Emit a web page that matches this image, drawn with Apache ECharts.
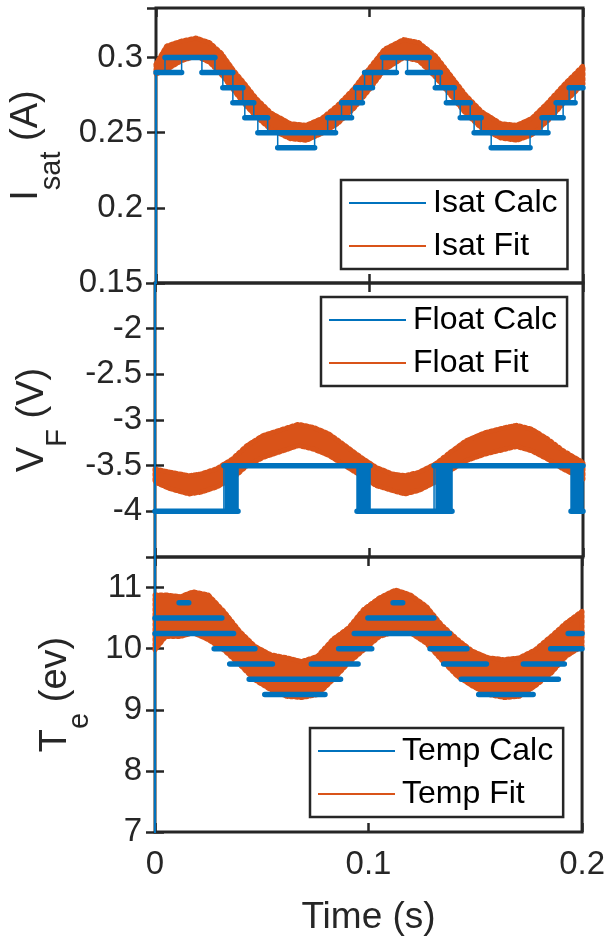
<!DOCTYPE html>
<html><head><meta charset="utf-8">
<script src="https://cdn.jsdelivr.net/npm/echarts@6/dist/echarts.min.js"></script>
<style>html,body{margin:0;padding:0;background:#fff}#c{width:608px;height:943px}</style>
</head><body><div id="c"></div>
<script>
// ---------- DATA ----------
// Panel 1: saturation current
const isatFitT   = [0, 0.005, 0.012, 0.0187, 0.025, 0.0305, 0.036, 0.0415, 0.047, 0.054, 0.063, 0.0705, 0.0777, 0.085, 0.0925, 0.0995, 0.107, 0.116, 0.123, 0.131, 0.138, 0.145, 0.1525, 0.1615, 0.169, 0.176, 0.1835, 0.1905, 0.2];
const isatFitUp  = [0.2956, 0.3077, 0.311, 0.313, 0.31, 0.303, 0.292, 0.2825, 0.2726, 0.263, 0.256, 0.255, 0.2595, 0.268, 0.279, 0.292, 0.3055, 0.312, 0.31, 0.301, 0.288, 0.275, 0.264, 0.256, 0.255, 0.2595, 0.27, 0.281, 0.2945];
const isatFitLo  = [0.289, 0.292, 0.298, 0.301, 0.297, 0.289, 0.279, 0.269, 0.2606, 0.252, 0.246, 0.245, 0.2496, 0.256, 0.266, 0.278, 0.292, 0.30, 0.298, 0.287, 0.275, 0.263, 0.253, 0.2465, 0.245, 0.2485, 0.258, 0.269, 0.2825];
const isatFitStart = [[0, 0.266], [0, 0.296]];
const isatCalcStart = [0, 0.0042, 0.0215, 0.0313, 0.036, 0.0416, 0.0477, 0.057, 0.0804, 0.0869, 0.0935, 0.0977, 0.1061, 0.1178, 0.1308, 0.136, 0.1425, 0.149, 0.157, 0.1808, 0.1874, 0.1935];
const isatCalcEnd   = [0.012, 0.0276, 0.036, 0.0407, 0.0458, 0.0523, 0.0841, 0.0743, 0.0916, 0.0967, 0.1014, 0.1126, 0.128, 0.1332, 0.1397, 0.1472, 0.1523, 0.1836, 0.1752, 0.1907, 0.1963, 0.2];
const isatCalcLevel = [0.29, 0.30, 0.29, 0.28, 0.27, 0.26, 0.25, 0.24, 0.26, 0.27, 0.28, 0.29, 0.30, 0.29, 0.28, 0.27, 0.26, 0.25, 0.24, 0.26, 0.27, 0.28];
const isatCalcStartup = [[0, 0.10], [0, 0.29]];
const isatFlicker = [];

// Panel 2: floating potential
const floatFitT  = [0, 0.0067, 0.0159, 0.0215, 0.0286, 0.036, 0.043, 0.0505, 0.0598, 0.067, 0.0743, 0.0815, 0.0888, 0.0963, 0.1033, 0.1107, 0.1168, 0.1234, 0.131, 0.1379, 0.1453, 0.1542, 0.1636, 0.169, 0.176, 0.1836, 0.1907, 0.2];
const floatFitUp = [-3.536, -3.57, -3.61, -3.59, -3.536, -3.43, -3.28, -3.17, -3.10, -3.047, -3.083, -3.156, -3.28, -3.41, -3.518, -3.59, -3.61, -3.572, -3.482, -3.355, -3.228, -3.138, -3.083, -3.058, -3.10, -3.21, -3.337, -3.464];
const floatFitLo = [-3.68, -3.75, -3.81, -3.79, -3.735, -3.645, -3.5, -3.41, -3.337, -3.28, -3.32, -3.39, -3.5, -3.61, -3.717, -3.77, -3.81, -3.77, -3.68, -3.554, -3.446, -3.373, -3.32, -3.29, -3.337, -3.43, -3.536, -3.645];
const floatFitStart = [[0, -3.32], [0, -3.96]];
const floatCalcStart = [0, 0.0322, 0.0944, 0.1304, 0.1944];
const floatCalcEnd   = [0.0388, 0.1005, 0.1388, 0.2, 0.2];
const floatCalcLevel = [-4, -3.5, -4, -3.5, -4];
const floatCalcStartup = [[0, -1.0], [0, -4.5], [0, -4]];
const floatFlicker = [[0.0325, 0.0388, -4, -3.5], [0.0944, 0.1005, -4, -3.5], [0.1310, 0.1388, -4, -3.5], [0.1944, 0.2, -4, -3.5]];

// Panel 3: electron temperature
const teFitT  = [0, 0.005, 0.012, 0.0178, 0.0249, 0.0322, 0.0397, 0.0467, 0.0542, 0.0617, 0.0687, 0.0762, 0.0832, 0.0907, 0.0977, 0.1051, 0.1126, 0.1196, 0.1271, 0.1341, 0.1416, 0.1486, 0.1561, 0.1636, 0.1706, 0.178, 0.1855, 0.1925, 0.2];
const teFitUp = [10.88, 10.88, 10.85, 10.93, 10.88, 10.61, 10.28, 10.04, 9.9, 9.85, 9.79, 9.875, 10.15, 10.34, 10.64, 10.83, 10.96, 10.88, 10.69, 10.39, 10.15, 9.96, 9.85, 9.82, 9.85, 9.98, 10.2, 10.42, 10.61];
const teFitLo = [9.98, 10.2, 10.2, 10.26, 10.15, 9.98, 9.74, 9.49, 9.33, 9.22, 9.20, 9.25, 9.49, 9.77, 9.98, 10.2, 10.28, 10.26, 10.09, 9.82, 9.55, 9.39, 9.25, 9.2, 9.22, 9.39, 9.6, 9.875, 10.04];
const teFitStart = [[0, 9.98], [0, 11.2]];
const teCalcStart = [0, 0, 0.0113, 0.0277, 0.035, 0.0441, 0.0514, 0.0732, 0.086, 0.0933, 0.0997, 0.1115, 0.1288, 0.1352, 0.1434, 0.1516, 0.1725, 0.1853, 0.1935];
const teCalcEnd   = [0.0313, 0.0368, 0.0158, 0.0468, 0.055, 0.0869, 0.0796, 0.0951, 0.1015, 0.1379, 0.1306, 0.116, 0.1461, 0.1552, 0.1889, 0.1771, 0.1917, 0.2, 0.2];
const teCalcLevel = [10.5, 10.25, 10.75, 10.0, 9.75, 9.5, 9.25, 9.75, 10.0, 10.25, 10.5, 10.75, 10.0, 9.75, 9.5, 9.25, 9.75, 10.0, 10.25];
const teCalcStartup = [[0, 6.0], [0, 11.6], [0, 10.0]];
const teFlicker = [];

// Axes
const xTicks = [0, 0.1, 0.2];
const yRanges = [
  {min: 0.15, max: 0.333, interval: 0.05},
  {min: -4.5, max: -1.5, interval: 0.5},
  {min: 7, max: 11.5, interval: 1}
];
const legendNames = [['Isat Calc', 'Isat Fit'], ['Float Calc', 'Float Fit'], ['Temp Calc', 'Temp Fit']];

// ---------- STYLE ----------
const BLUE = '#0072BD', ORANGE = '#D95319', AX = '#262626';
const FONT = 'Liberation Sans, Arial, Helvetica, sans-serif';
const GL = 155, GW = 428;
const grids = [{top: 8, height: 275}, {top: 283, height: 274}, {top: 557, height: 275}];

const panels = [
  {fitT: isatFitT, up: isatFitUp, lo: isatFitLo, fitStart: isatFitStart, cs: isatCalcStart, ce: isatCalcEnd, cl: isatCalcLevel, startup: isatCalcStartup, flick: isatFlicker, connectors: true},
  {fitT: floatFitT, up: floatFitUp, lo: floatFitLo, fitStart: floatFitStart, cs: floatCalcStart, ce: floatCalcEnd, cl: floatCalcLevel, startup: floatCalcStartup, flick: floatFlicker, connectors: true},
  {fitT: teFitT, up: teFitUp, lo: teFitLo, fitStart: teFitStart, cs: teCalcStart, ce: teCalcEnd, cl: teCalcLevel, startup: teCalcStartup, flick: teFlicker, connectors: false}
];

const yNames = ['{m|I}{s|sat}{z|\u200b}{m| (A)}', '{m|V}{s|F}{z|\u200b}{m| (V)}', '{m|T}{s|e}{z|\u200b}{m| (ev)}'];
const yNameGaps = [90, 83, 60];

function nameRich() {
  return {
    m: {fontSize: 38, fontFamily: FONT, color: AX, lineHeight: 42, verticalAlign: 'top'},
    s: {fontSize: 29, fontFamily: FONT, color: AX, lineHeight: 29, verticalAlign: 'bottom'},
    z: {fontSize: 10, fontFamily: FONT, lineHeight: 58, verticalAlign: 'middle'}
  };
}

const option = {animation: false, backgroundColor: '#fff', grid: [], xAxis: [], yAxis: [], series: [], legend: []};

grids.forEach((g, i) => {
  option.grid.push({left: GL, width: GW, top: g.top, height: g.height, show: true, borderColor: AX, borderWidth: 3, backgroundColor: 'transparent'});
  const last = i === 2;
  ['bottom', 'top'].forEach(pos => {
    option.xAxis.push({
      type: 'value', gridIndex: i, position: pos, min: xTicks[0], max: xTicks[xTicks.length - 1], interval: xTicks[1] - xTicks[0],
      axisLine: {show: false}, splitLine: {show: false},
      axisTick: {show: true, inside: true, length: 9, lineStyle: {color: AX, width: 2.5}},
      axisLabel: {show: last && pos === 'bottom', fontSize: 33, fontFamily: FONT, color: AX, margin: 16,
        formatter: v => String(v)},
      name: last && pos === 'bottom' ? 'Time (s)' : '', nameLocation: 'middle', nameGap: 67,
      nameTextStyle: {fontSize: 37, fontFamily: FONT, color: AX}
    });
  });
  const r = yRanges[i];
  ['left', 'right'].forEach(pos => {
    option.yAxis.push({
      type: 'value', gridIndex: i, position: pos, min: r.min, max: r.max, interval: r.interval,
      axisLine: {show: false}, splitLine: {show: false},
      axisTick: {show: true, inside: true, length: 9, lineStyle: {color: AX, width: 2.5}},
      axisLabel: {show: pos === 'left', fontSize: 33, fontFamily: FONT, color: AX, margin: 13, showMaxLabel: false, showMinLabel: i !== 1},
      name: pos === 'left' ? yNames[i] : '', nameLocation: 'middle', nameGap: yNameGaps[i], nameRotate: 90,
      nameTextStyle: {rich: nameRich()}
    });
  });
});

panels.forEach((p, i) => {
  const xi = 2 * i, yi = 2 * i;
  const [calcName, fitName] = legendNames[i];
  // orange fit band (filled envelope + dotted rim for the scatter look)
  option.series.push({
    type: 'custom', name: fitName, xAxisIndex: xi, yAxisIndex: yi, z: 2, itemStyle: {color: ORANGE},
    data: [[p.fitT[0], p.lo[0]]],
    renderItem: (params, api) => {
      const pts = [];
      p.fitT.forEach((t, k) => pts.push(api.coord([t, p.up[k]])));
      for (let k = p.fitT.length - 1; k >= 0; k--) pts.push(api.coord([p.fitT[k], p.lo[k]]));
      return {type: 'group', children: [
        {type: 'polygon', shape: {points: pts}, style: {fill: ORANGE, stroke: ORANGE, lineWidth: 2.5, lineJoin: 'round'}},
        {type: 'polygon', shape: {points: pts}, style: {fill: null, stroke: ORANGE, lineWidth: 5, lineDash: [2, 3], lineCap: 'round', lineJoin: 'round'}}
      ]};
    }
  });
  option.series.push({type: 'line', name: fitName, xAxisIndex: xi, yAxisIndex: yi, z: 3, data: p.fitStart,
    symbol: 'none', lineStyle: {color: ORANGE, width: 2}, itemStyle: {color: ORANGE}});
  // blue flicker blocks
  if (p.flick.length) {
    option.series.push({
      type: 'custom', name: calcName, xAxisIndex: xi, yAxisIndex: yi, z: 4, itemStyle: {color: BLUE},
      data: p.flick,
      renderItem: (params, api) => {
        const a = api.coord([api.value(0), api.value(3)]);
        const b = api.coord([api.value(1), api.value(2)]);
        return {type: 'rect', shape: {x: a[0], y: a[1], width: b[0] - a[0], height: b[1] - a[1]}, style: {fill: BLUE}};
      }
    });
  }
  // thin vertical connectors computed from segments
  const conn = [];
  if (p.connectors) {
    for (let k = 0; k < p.cs.length; k++) {
      [p.cs[k], p.ce[k]].forEach(t => {
        let best = null;
        for (let j = 0; j < p.cs.length; j++) {
          if (j === k || p.cl[j] === p.cl[k]) continue;
          if (p.cs[j] - 0.002 <= t && t <= p.ce[j] + 0.002) {
            if (best === null || Math.abs(p.cl[j] - p.cl[k]) < Math.abs(best - p.cl[k])) best = p.cl[j];
          }
        }
        if (best !== null) { conn.push([t, p.cl[k]]); conn.push([t, best]); conn.push(null); }
      });
    }
  }
  option.series.push({type: 'line', name: calcName, xAxisIndex: xi, yAxisIndex: yi, z: 5, data: conn, connectNulls: false,
    symbol: 'none', lineStyle: {color: BLUE, width: 1.5}, itemStyle: {color: BLUE}});
  // thick level segments
  const seg = [];
  for (let k = 0; k < p.cs.length; k++) { seg.push([p.cs[k], p.cl[k]]); seg.push([p.ce[k], p.cl[k]]); seg.push(null); }
  option.series.push({type: 'line', name: calcName, xAxisIndex: xi, yAxisIndex: yi, z: 6, data: seg, connectNulls: false,
    symbol: 'none', lineStyle: {color: BLUE, width: 5.5, cap: 'round'}, itemStyle: {color: BLUE}});
  option.series.push({type: 'line', name: calcName, xAxisIndex: xi, yAxisIndex: yi, z: 6, data: p.startup,
    symbol: 'none', lineStyle: {color: BLUE, width: 2}, itemStyle: {color: BLUE}});
});

const legendPos = [{left: 341, top: 180}, {left: 321, top: 297}, {left: 310, top: 728}];
legendPos.forEach((lp, i) => {
  option.legend.push({
    left: lp.left, top: lp.top, orient: 'vertical', icon: 'rect', itemWidth: 77, itemHeight: 2, itemGap: 9,
    padding: [6, 10, 6, 8], borderColor: AX, borderWidth: 2.5, backgroundColor: '#fff',
    selectedMode: false,
    textStyle: {fontSize: 32, fontFamily: FONT, color: '#000', lineHeight: 34, padding: [0, 0, 0, 2]},
    data: [{name: legendNames[i][0], itemStyle: {color: BLUE}}, {name: legendNames[i][1], itemStyle: {color: ORANGE}}]
  });
});

const chart = echarts.init(document.getElementById('c'), null, {renderer: 'canvas'});
chart.setOption(option);
</script></body></html>
